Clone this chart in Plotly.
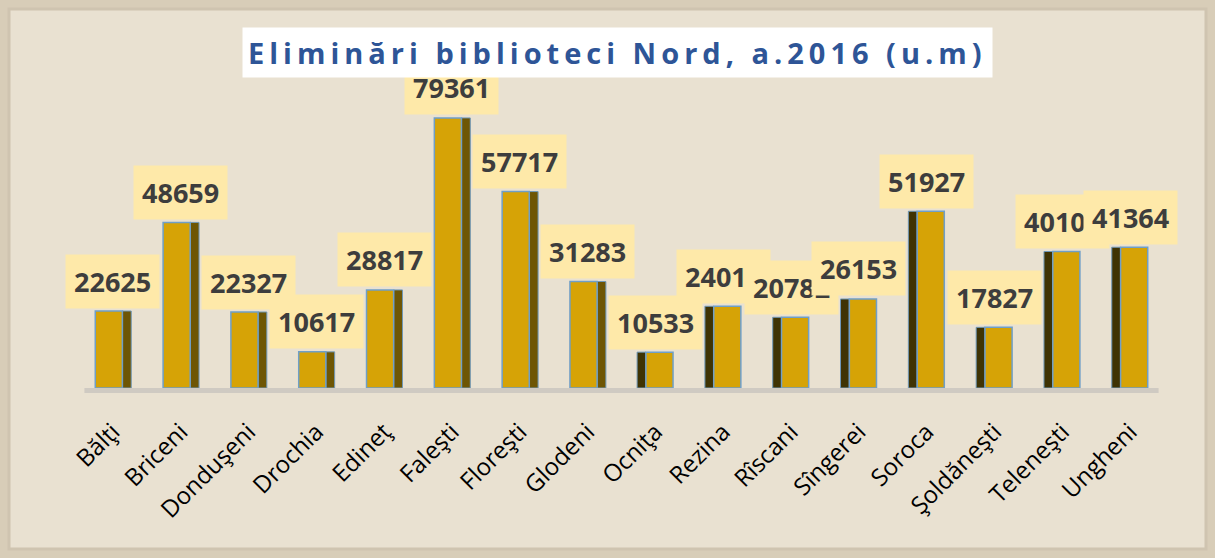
import plotly.graph_objects as go

categories = ["Bălţi", "Briceni", "Donduşeni", "Drochia", "Edineţ", "Faleşti", "Floreşti", "Glodeni",
              "Ocniţa", "Rezina", "Rîscani", "Sîngerei", "Soroca", "Şoldăneşti", "Teleneşti", "Ungheni"]
values = [22625, 48659, 22327, 10617, 28817, 79361, 57717, 31283,
          10533, 24013, 20782, 26153, 51927, 17827, 40105, 41364]
title_text = "Eliminări biblioteci Nord, a.2016 (u.m)"

W, H = 1215, 558
ML, MR, MT, MB = 79, 51, 80, 170
YMAX = 90500

n = len(categories)
front_off = [-0.26 if i < n / 2 else -0.14 for i in range(n)]
side_off = [0.14 if i < n / 2 else -0.27 for i in range(n)]
side_col = ["#6e5604" if i < n / 2 else "#3f3303" for i in range(n)]

fig = go.Figure()
# dark side face
fig.add_trace(go.Bar(x=categories, y=values, width=0.13, offset=side_off,
                     marker=dict(color=side_col, line=dict(color="#6f98b8", width=1)),
                     hoverinfo="skip", showlegend=False))
# front face
fig.add_trace(go.Bar(x=categories, y=values, width=0.40, offset=front_off,
                     marker=dict(color="#d6a306", line=dict(color="#6f9fc8", width=1.5)),
                     showlegend=False))

fig.update_layout(barmode="overlay")

# value labels
for c, v in zip(categories, values):
    fig.add_annotation(x=c, y=v, xref="x", yref="y", text=f"<b>{v}</b>", showarrow=False,
                       yshift=30, yanchor="middle",
                       font=dict(family="Open Sans, Lato, sans-serif", size=27, color="#3d3d3d"),
                       bgcolor="#fee9a9", borderpad=8)

pw = W - ML - MR
ph = H - MT - MB
# background panel and border (paper-referenced decorations)
fig.add_shape(type="rect", xref="paper", yref="paper", layer="below",
              x0=-(ML - 9) / pw, x1=1 + (MR - 9) / pw, y0=-(MB - 9) / ph, y1=1 + (MT - 9) / ph,
              fillcolor="#e9e1d1", line=dict(color="#cfc4b0", width=3))
# floor
fig.add_shape(type="rect", xref="paper", yref="paper", layer="below",
              x0=0.005, x1=0.995, y0=-5 / ph, y1=0,
              fillcolor="#cfcac2", line=dict(width=0))

# title box
fig.add_annotation(x=(617 - ML) / pw, y=1, xref="paper", yref="paper", yshift=28, yanchor="middle",
                   text=f"<span style='letter-spacing:5px'><b>{title_text}</b></span>", showarrow=False,
                   font=dict(family="Open Sans, sans-serif", size=29, color="#2e5597"),
                   bgcolor="#ffffff", borderpad=5)

fig.update_layout(
    width=W, height=H,
    margin=dict(l=ML, r=MR, t=MT, b=MB),
    paper_bgcolor="#d8cdb8",
    plot_bgcolor="rgba(0,0,0,0)",
    xaxis=dict(tickangle=-45, tickfont=dict(family="Open Sans, sans-serif", size=24, color="#000000"),
               range=[-0.5, n - 0.5], ticklabelstandoff=24,
               showgrid=False, zeroline=False, showline=False, ticks="", automargin=False),
    yaxis=dict(range=[0, YMAX], visible=False, showgrid=False, zeroline=False),
)

fig.write_html("out.html", config={"displayModeBar": False},
               post_script="document.body.style.margin='0';document.body.style.overflow='hidden';")
